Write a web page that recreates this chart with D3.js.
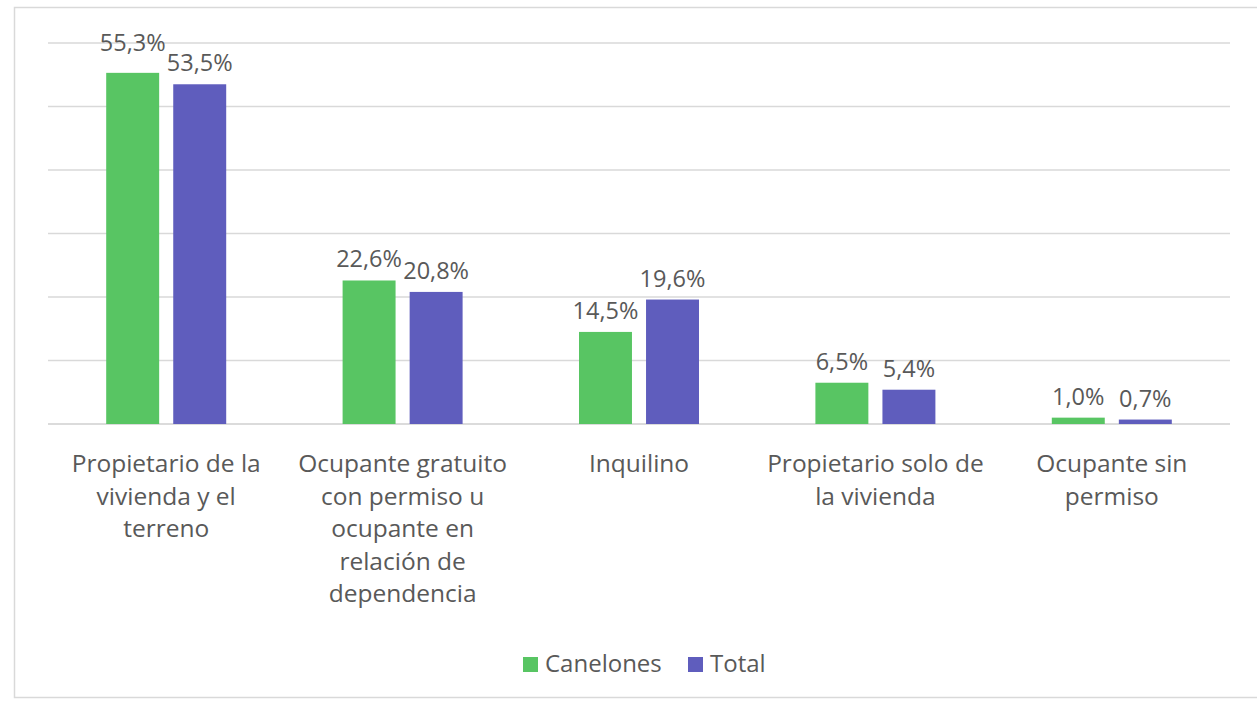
<!DOCTYPE html>
<html>
<head>
<meta charset="utf-8">
<script src="https://cdn.jsdelivr.net/npm/d3@7"></script>
<style>
  body { margin: 0; background: #fff; }
  text { font-family: "Open Sans", sans-serif; fill: #595959; }
</style>
</head>
<body>
<div id="chart"></div>
<script>
// categorias (cada una partida en renglones)
var categorias = [
	['Propietario de la', 'vivienda y el', 'terreno'],
	['Ocupante gratuito', 'con permiso u', 'ocupante en', 'relación de', 'dependencia'],
	['Inquilino'],
	['Propietario solo de', 'la vivienda'],
	['Ocupante sin', 'permiso']
];
var canelones = [55.3, 22.6, 14.5, 6.5, 1.0];
var total = [53.5, 20.8, 19.6, 5.4, 0.7];
var series = ['Canelones', 'Total'];
var colores = ['#58c563', '#5f5dbd'];
var y_ticks = [0, 10, 20, 30, 40, 50, 60];

var width = 1257,
	height = 705;
var plot_left = 48, plot_right = 1230, plot_top = 43, plot_bottom = 424;

var svg = d3.select('#chart').append('svg')
	.attr('width', width)
	.attr('height', height);

// marco del grafico
svg.append('rect')
	.attr('x', 14.5).attr('y', 7.5)
	.attr('width', 1260).attr('height', 690)
	.attr('fill', 'none')
	.attr('stroke', '#d9d9d9')
	.attr('stroke-width', 1.5);

var x_scale = d3.scaleBand()
	.domain(d3.range(categorias.length))
	.range([plot_left, plot_right]);

var x_inner = d3.scaleBand()
	.domain(series)
	.range([0, 120])
	.paddingInner(0.21);

var y_scale = d3.scaleLinear()
	.domain([0, 60])
	.range([plot_bottom, plot_top]);

// lineas de grilla
svg.append('g')
	.selectAll('line')
	.data(y_ticks)
	.enter()
	.append('line')
		.attr('x1', plot_left).attr('x2', plot_right)
		.attr('y1', function(d) { return y_scale(d); })
		.attr('y2', function(d) { return y_scale(d); })
		.attr('stroke', function(d) { return d === 0 ? '#cfcfcf' : '#d9d9d9'; })
		.attr('stroke-width', 1.5);

var datos = [];
categorias.forEach(function(c, i) {
	datos.push({i: i, s: 'Canelones', v: canelones[i], c: colores[0]});
	datos.push({i: i, s: 'Total', v: total[i], c: colores[1]});
});

function bar_x(d) {
	var center = x_scale(d.i) + x_scale.bandwidth() / 2;
	return center - 60 + x_inner(d.s);
}

svg.append('g')
	.selectAll('rect')
	.data(datos)
	.enter()
	.append('rect')
		.attr('x', bar_x)
		.attr('y', function(d) { return y_scale(d.v); })
		.attr('width', x_inner.bandwidth())
		.attr('height', function(d) { return y_scale(0) - y_scale(d.v); })
		.attr('fill', function(d) { return d.c; });

// etiquetas de valores
svg.append('g')
	.selectAll('text')
	.data(datos)
	.enter()
	.append('text')
		.attr('x', function(d) { return bar_x(d) + x_inner.bandwidth() / 2; })
		.attr('y', function(d) { return y_scale(d.v) - (d.v > 55 ? 22 : 13); })
		.attr('text-anchor', 'middle')
		.attr('font-size', 23.5)
		.text(function(d) { return d.v.toFixed(1).replace('.', ',') + '%'; });

// etiquetas del eje x
var labels = svg.append('g')
	.selectAll('text')
	.data(categorias)
	.enter()
	.append('text')
		.attr('x', function(d, i) { return x_scale(i) + x_scale.bandwidth() / 2; })
		.attr('y', 472)
		.attr('text-anchor', 'middle')
		.attr('font-size', 24.5);

labels.selectAll('tspan')
	.data(function(d) { return d; })
	.enter()
	.append('tspan')
		.attr('x', function() { return d3.select(this.parentNode).attr('x'); })
		.attr('dy', function(d, j) { return j === 0 ? 0 : 32.5; })
		.text(function(d) { return d; });

// leyenda
var leyenda = svg.append('g');
var ley_x = [523, 688];
series.forEach(function(s, i) {
	leyenda.append('rect')
		.attr('x', ley_x[i]).attr('y', 657)
		.attr('width', 15).attr('height', 15)
		.attr('fill', colores[i]);
	leyenda.append('text')
		.attr('x', ley_x[i] + 22).attr('y', 672)
		.attr('font-size', 24)
		.text(s);
});
</script>
</body>
</html>
